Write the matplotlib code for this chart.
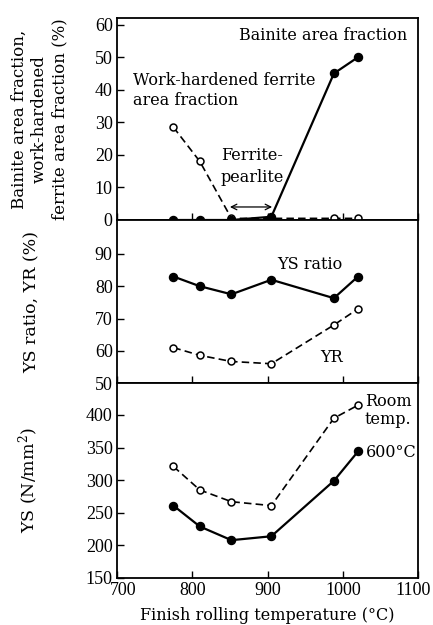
import matplotlib
matplotlib.use("Agg")
import matplotlib.pyplot as plt
from matplotlib.transforms import ScaledTranslation

plt.rcParams['font.family'] = ['DejaVu Serif']
plt.rcParams['mathtext.fontset'] = 'dejavuserif'

temp = [775, 810, 852, 905, 988, 1020]

bainite = [0, 0, 0, 1, 45, 50]
work_hardened = [28.5, 18, 0.5, 0.5, 0.5, 0.5]

ys_ratio = [83, 80, 77.5, 82, 76.3, 83]
yr = [61, 58.6, 56.7, 56, 68, 73]

ys_room = [321, 285, 267, 261, 395, 415]
ys_600 = [261, 229, 208, 214, 299, 344]

xticks = [700, 800, 900, 1000, 1100]

tick_font = dict(family='Liberation Serif', size=13)
fs = 11.5

fig = plt.figure(figsize=(4.33, 6.25), dpi=100)
left, width = 0.270, 0.696
ax1 = fig.add_axes([left, 0.648, width, 0.323])
ax2 = fig.add_axes([left, 0.387, width, 0.261])
ax3 = fig.add_axes([left, 0.0752, width, 0.312])

solid = dict(color='black', lw=1.6, marker='o', ms=5.8, mfc='black', mec='black')
dashed = dict(color='black', lw=1.2, ls=(0, (4.5, 2.5)), marker='o', ms=5, mfc='white', mec='black', mew=1.1)

# top panel: area fractions
ax1.plot(temp, work_hardened, **dashed, zorder=3)
ax1.plot(temp, bainite, **solid, zorder=4)
ax1.set_ylim(0, 62)
ax1.set_yticks([0, 10, 20, 30, 40, 50, 60])
ax1.annotate('', xy=(850, 4), xytext=(906, 4),
             arrowprops=dict(arrowstyle='<->', color='black', lw=0.9, shrinkA=0, shrinkB=0))
ax1.text(838, 16.5, 'Ferrite-\npearlite', ha='left', va='center', fontsize=fs, linespacing=1.35)
ax1.text(1086, 56.6, 'Bainite area fraction', ha='right', va='center', fontsize=fs)
ax1.text(721, 39.8, 'Work-hardened ferrite\narea fraction', ha='left', va='center', fontsize=fs,
         linespacing=1.25)
ax1.set_ylabel('Bainite area fraction,\nwork-hardened\nferrite area fraction (%)',
               fontsize=12, linespacing=1.25)

# middle panel: ratios
ax2.plot(temp, yr, **dashed)
ax2.plot(temp, ys_ratio, **solid)
ax2.set_ylim(50, 100.5)
ax2.set_yticks([50, 60, 70, 80, 90])
ax2.text(956, 86.6, 'YS ratio', ha='center', va='center', fontsize=fs)
ax2.text(985, 57.8, 'YR', ha='center', va='center', fontsize=fs)
ax2.set_ylabel('YS ratio, YR (%)', fontsize=12.5)

# bottom panel: yield strength
ax3.plot(temp, ys_room, **dashed)
ax3.plot(temp, ys_600, **solid)
ax3.set_ylim(150, 449)
ax3.set_yticks([150, 200, 250, 300, 350, 400])
ax3.text(1029, 407, 'Room\ntemp.', ha='left', va='center', fontsize=fs, linespacing=1.05)
ax3.text(1030, 343, '600°C', ha='left', va='center', fontsize=fs)
ax3.set_ylabel('YS (N/mm$^2$)', fontsize=12.5)
ax3.set_xlabel('Finish rolling temperature (°C)', fontsize=fs, labelpad=6)

for ax in (ax1, ax2, ax3):
    ax.set_xlim(700, 1100)
    ax.set_xticks(xticks)
    ax.tick_params(direction='in', length=5, width=1, pad=3)
    for lab in ax.get_xticklabels() + ax.get_yticklabels():
        lab.set_fontfamily(tick_font['family'])
        lab.set_fontsize(tick_font['size'])
    for s in ax.spines.values():
        s.set_linewidth(1.3)
ax1.set_xticklabels([])
ax2.set_xticklabels([])

ax1.yaxis.set_label_coords(-0.162, 0.5)
ax2.yaxis.set_label_coords(-0.252, 0.5)
ax3.yaxis.set_label_coords(-0.252, 0.5)

# nudge outer x tick labels inward like the original print
xt = ax3.xaxis.get_major_ticks()
xt[0].label1.set_transform(xt[0].label1.get_transform() + ScaledTranslation(0.06, 0, fig.dpi_scale_trans))
xt[-1].label1.set_transform(xt[-1].label1.get_transform() + ScaledTranslation(-0.05, 0, fig.dpi_scale_trans))

fig.savefig('out.png', dpi=100)
